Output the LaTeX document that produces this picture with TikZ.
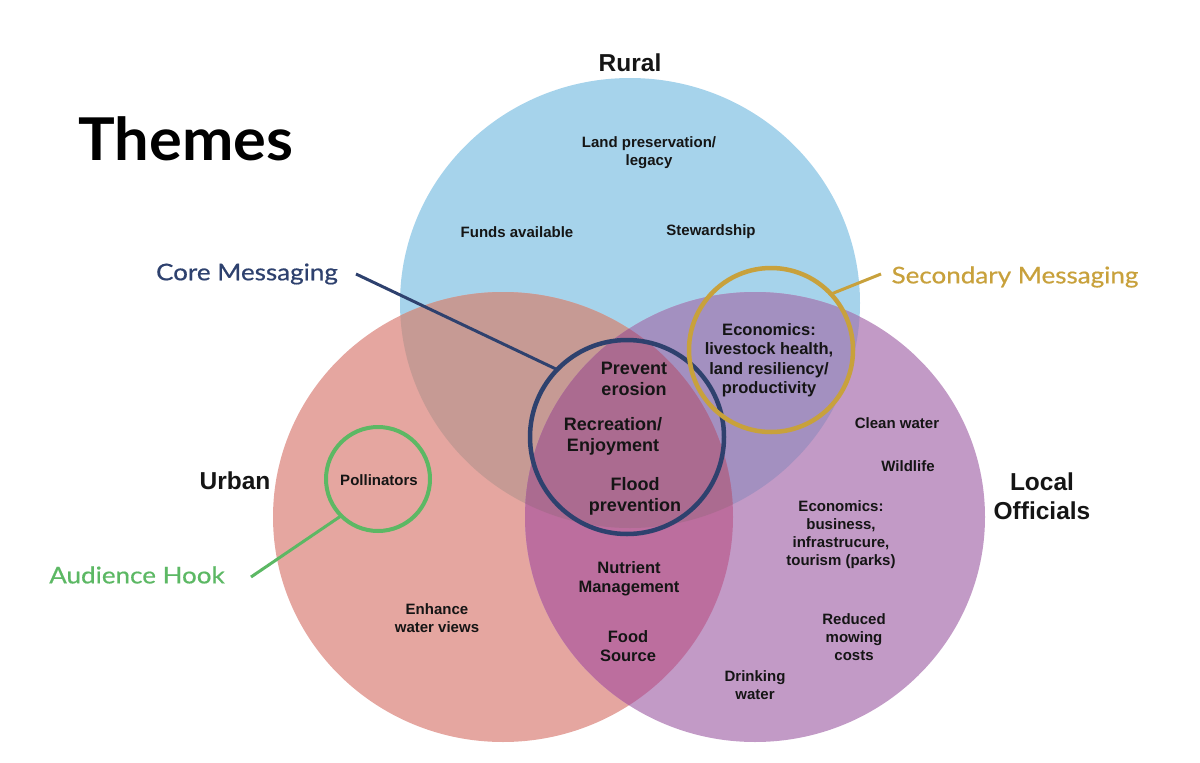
\documentclass[tikz,border=0pt]{standalone}
\usepackage{fontspec}
\setmainfont{Liberation Sans}
\newfontfamily\avenirmed[FakeStretch=1.13, FakeBold=0.6]{Lato}
\newfontfamily\avenirtitle[FakeStretch=1.04]{Lato}

\definecolor{ruralc}{HTML}{A6D3EB}
\definecolor{urbanc}{HTML}{E5A6A0}
\definecolor{offc}{HTML}{C29AC6}
\definecolor{ruc}{HTML}{C69A94}
\definecolor{roc}{HTML}{A390C0}
\definecolor{uoc}{HTML}{BC6E9E}
\definecolor{allc}{HTML}{AB6B90}
\definecolor{navyc}{HTML}{2E416E}
\definecolor{goldc}{HTML}{C8A13C}
\definecolor{greenc}{HTML}{5CB864}
\definecolor{txt}{HTML}{151515}

\tikzset{
  smalltxt/.style={font=\fontsize{15}{18}\selectfont\bfseries, align=center, inner sep=0pt, text=txt},
  midtxt/.style={font=\fontsize{16.5}{19.5}\selectfont\bfseries, align=center, inner sep=0pt, text=txt},
  bigtxt/.style={font=\fontsize{18}{21}\selectfont\bfseries, align=center, inner sep=0pt, text=txt},
  setlabel/.style={font=\fontsize{24.5}{29}\selectfont\bfseries, align=center, inner sep=0pt, text=txt},
  callout/.style={font=\avenirmed\fontsize{23}{27}\selectfont, inner sep=0pt},
  ring/.style={circle, draw, line width=4.5pt, minimum size=#1, inner sep=0pt, outer sep=0pt},
  leader/.style={line width=3pt}
}

\begin{document}
\begin{tikzpicture}[x=1pt,y=-1pt]
\path[use as bounding box] (0,0) rectangle (1200,763);

\def\rural{(630,303) ellipse [x radius=230, y radius=225]}
\def\urban{(503,517) ellipse [x radius=230, y radius=225]}
\def\officials{(755,517) ellipse [x radius=230, y radius=225]}

\fill[ruralc] \rural;
\fill[urbanc] \urban;
\fill[offc] \officials;
\begin{scope} \clip \rural; \fill[ruc] \urban; \end{scope}
\begin{scope} \clip \rural; \fill[roc] \officials; \end{scope}
\begin{scope} \clip \urban; \fill[uoc] \officials; \end{scope}
\begin{scope} \clip \rural; \clip \urban; \fill[allc] \officials; \end{scope}

% title and set labels
\node[font=\avenirtitle\bfseries\fontsize{59}{64}\selectfont, inner sep=0pt] (themes) at (186,139) {Themes};
\node[setlabel] (rurallbl) at (630,63) {Rural};
\node[setlabel] (urbanlbl) at (235,481) {Urban};
\node[setlabel] (locallbl) at (1042,496) {Local\\Officials};

% rural only
\node[smalltxt] (land) at (649,152.5) {Land preservation/\\legacy};
\node[smalltxt] (funds) at (517,232) {Funds available};
\node[smalltxt] (stew) at (711,232) {Stewardship};

% rural & officials
\node[midtxt] (econa) at (769,360) {Economics:\\livestock health,\\land resiliency/\\productivity};

% centre
\node[bigtxt] (prevent) at (634,378.5) {Prevent\\erosion};
\node[bigtxt] (recr) at (613,436.5) {Recreation/\\Enjoyment};
\node[bigtxt] (flood) at (635,496.5) {Flood\\prevention};

% urban & officials
\node[midtxt] (nutr) at (629,579) {Nutrient\\Management};
\node[midtxt] (food) at (628,646) {Food\\Source};

% urban only
\node[smalltxt] (poll) at (379,480) {Pollinators};
\node[smalltxt] (enh) at (437,618) {Enhance\\water views};

% officials only
\node[smalltxt] (clean) at (897,423) {Clean water};
\node[smalltxt] (wild) at (908,466) {Wildlife};
\node[smalltxt] (econb) at (841,535) {Economics:\\business,\\infrastrucure,\\tourism (parks)};
\node[smalltxt] (mow) at (854,637.5) {Reduced\\mowing\\costs};
\node[smalltxt] (drink) at (755,685) {Drinking\\water};

% highlight rings
\node[ring=194pt, draw=navyc] (core) at (627,437) {};
\node[ring=164pt, draw=goldc] (second) at (771,350) {};
\node[ring=104pt, draw=greenc, line width=4pt] (hook) at (378,479) {};

% callouts
\node[callout, text=navyc] (cm) at (247,274) {Core Messaging};
\node[callout, text=goldc] (sm) at (1015,277) {Secondary Messaging};
\node[callout, text=greenc] (ah) at (137,575) {Audience Hook};

\coordinate (cmend) at (356,274);
\coordinate (smend) at (881,274);
\coordinate (ahend) at (251,577);

\draw[leader, navyc] (cmend) -- (core.136);
\draw[leader, goldc] (smend) -- (second.43);
\draw[leader, greenc] (ahend) -- (hook.225);
\end{tikzpicture}
\end{document}
